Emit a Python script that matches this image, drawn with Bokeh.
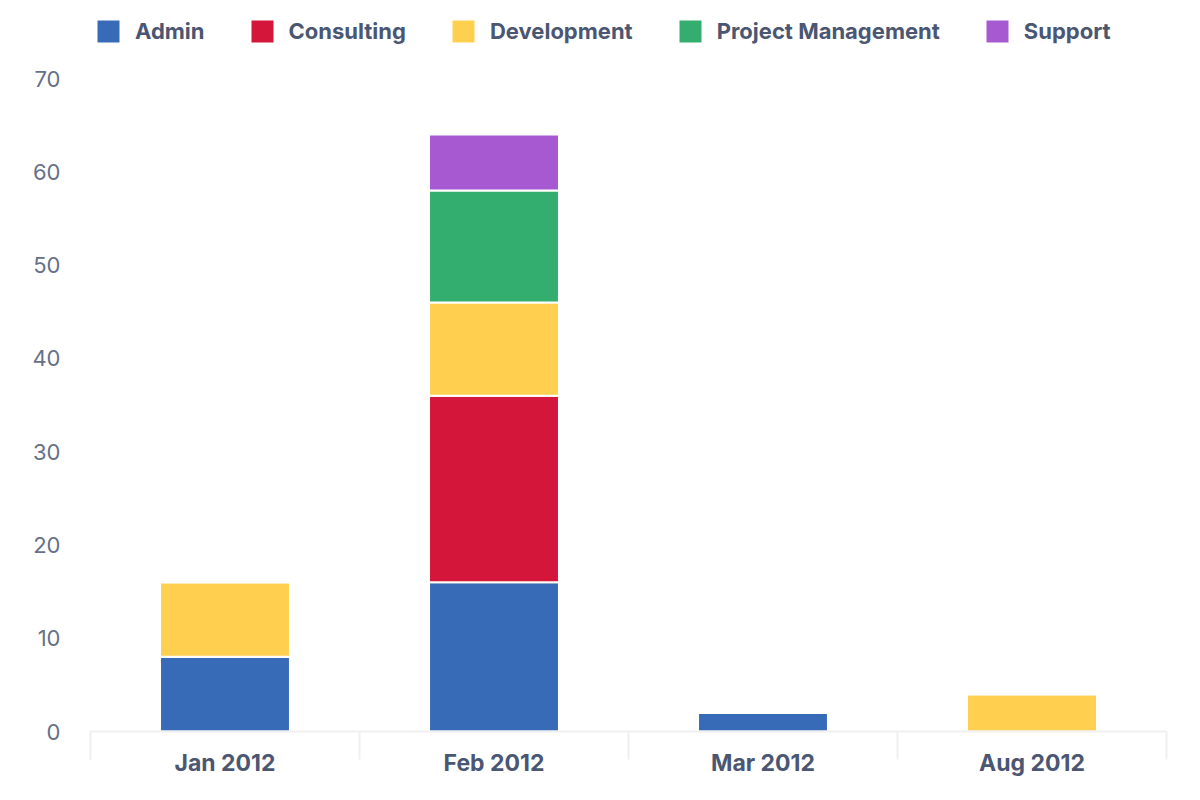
import numpy as np
from bokeh.plotting import figure
from bokeh.models import (ColumnDataSource, Range1d, FixedTicker, Legend, LegendItem,
                          LinearAxis)
from bokeh.embed import file_html
from bokeh.resources import INLINE

months = ["Jan 2012", "Feb 2012", "Mar 2012", "Aug 2012"]
series = ["Admin", "Consulting", "Development", "Project Management", "Support"]
admin = [8, 16, 2, 0]
consulting = [0, 20, 0, 0]
development = [8, 10, 0, 4]
project_management = [0, 12, 0, 0]
support = [0, 6, 0, 0]
colors = ["#386bb7", "#d4163b", "#ffcf4f", "#34ae6f", "#a659d1"]
y_ticks = [0, 10, 20, 30, 40, 50, 60, 70]

x_pos = np.arange(len(months)) + 0.5
source = ColumnDataSource(dict(
    x=x_pos,
    Admin=admin,
    Consulting=consulting,
    Development=development,
    **{"Project Management": project_management},
    Support=support,
))

# frame spans the full height above the x axis; 70 sits 78px below the top
frame_h = 731
y_end = 70 * frame_h / (frame_h - 78)

p = figure(width=1200, height=800, output_backend="svg", toolbar_location=None,
           x_range=Range1d(0, len(months)), y_range=Range1d(0, y_end),
           x_axis_type=None, y_axis_type=None,
           min_border_left=90, min_border_right=34, min_border_top=0, min_border_bottom=69)
p.outline_line_color = None
p.background_fill_color = "white"
p.border_fill_color = "white"

renderers = p.vbar_stack(series, x="x", width=0.483, color=colors, source=source,
                         line_color="white", line_width=2)

# y axis
yaxis = LinearAxis(ticker=FixedTicker(ticks=y_ticks))
yaxis.axis_line_color = None
yaxis.major_tick_line_color = None
yaxis.minor_tick_line_color = None
yaxis.major_tick_out = 0
yaxis.major_tick_in = 0
yaxis.major_label_standoff = 30
yaxis.major_label_text_font = "Inter"
yaxis.major_label_text_font_size = "22px"
yaxis.major_label_text_color = "#66708a"
p.add_layout(yaxis, "left")

# x axis
xaxis = LinearAxis(ticker=FixedTicker(ticks=list(x_pos),
                                      minor_ticks=list(range(len(months) + 1))))
xaxis.major_label_overrides = {float(x): m for x, m in zip(x_pos, months)}
xaxis.axis_line_color = "#f0f0f0"
xaxis.axis_line_width = 2
xaxis.major_tick_line_color = None
xaxis.major_tick_out = 0
xaxis.major_tick_in = 0
xaxis.minor_tick_line_color = "#f0f0f0"
xaxis.minor_tick_line_width = 2
xaxis.minor_tick_out = 28
xaxis.minor_tick_in = 0
xaxis.major_label_standoff = -11
xaxis.major_label_text_font = "Inter"
xaxis.major_label_text_font_style = "bold"
xaxis.major_label_text_font_size = "23px"
xaxis.major_label_text_color = "#4a5672"
p.add_layout(xaxis, "below")

p.ygrid.ticker = FixedTicker(ticks=y_ticks)
p.ygrid.grid_line_color = "#f0f0f0"
p.ygrid.grid_line_width = 2
p.xgrid.grid_line_color = None

items = [LegendItem(label=s, renderers=[r]) for s, r in zip(series, renderers)]
legend = Legend(items=items, orientation="horizontal", location=(3, frame_h - 46),
                glyph_width=30, glyph_height=30, label_standoff=12, spacing=42,
                padding=0, margin=0, border_line_color=None,
                background_fill_alpha=0,
                label_text_font="Inter", label_text_font_style="bold",
                label_text_font_size="22px", label_text_color="#4a5672")
p.add_layout(legend, "center")

open("out.html", "w").write(file_html(p, INLINE))
